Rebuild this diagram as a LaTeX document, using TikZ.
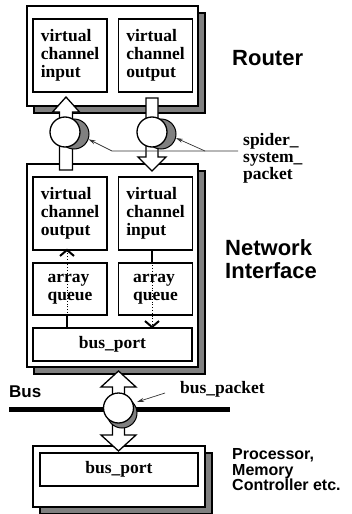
\documentclass[tikz,border=0pt]{standalone}
\usepackage{fontspec}
\setmainfont{Liberation Serif}
\setsansfont{Liberation Sans}
\usetikzlibrary{shadows,arrows.meta,calc}
\definecolor{shadowgray}{gray}{0.5}
\definecolor{ptrgray}{gray}{0.2}

\begin{document}
\begin{tikzpicture}[x=1pt,y=-1pt,
  every node/.style={inner sep=0pt},
  frame/.style={rectangle, draw, line width=1.3pt, fill=white,
    general shadow={shadow xshift=7pt, shadow yshift=-7pt,
      fill=shadowgray, draw=black, line width=1.1pt}},
  unit/.style={rectangle, draw, line width=1.3pt, fill=white, align=left,
    font=\fontsize{17.5}{18}\selectfont\bfseries},
  blockarrow/.style={draw, fill=white, line width=1.3pt, line join=miter},
  pkt/.style={circle, draw, line width=1.3pt, fill=white, minimum size=30pt},
  pktshadow/.style={circle, draw, line width=1pt, fill=shadowgray, minimum size=30pt},
  ptr/.style={draw=ptrgray, line width=0.7pt, -{Stealth[length=7pt,width=4pt]}},
  link/.style={line width=2pt},
  dotlink/.style={line width=0.8pt, dotted,
    -{Straight Barb[length=6pt,width=14pt,line width=2pt]}},
  lblsans/.style={font=\fontsize{22}{23}\selectfont\sffamily\bfseries, align=left},
  lblsmall/.style={font=\fontsize{16}{15.5}\selectfont\sffamily\bfseries, align=left},
  lblserif/.style={font=\fontsize{17.5}{17}\selectfont\bfseries, align=left},
]
\useasboundingbox (0,0) rectangle (352,514);

% Router
\node[frame, minimum width=171pt, minimum height=100pt] (router) at (112.5,56) {};
\node[unit, minimum width=74pt, minimum height=73pt] (rvci) at (70,55.5) {virtual\\channel\\input};
\node[unit, minimum width=74pt, minimum height=73pt] (rvco) at (155.5,55.5) {virtual\\channel\\output};

% Network interface
\node[frame, minimum width=171pt, minimum height=203pt] (ni) at (112.5,265.5) {};
\node[unit, minimum width=74pt, minimum height=73pt] (nvco) at (70,213.5) {virtual\\channel\\output};
\node[unit, minimum width=74pt, minimum height=73pt] (nvci) at (155.5,213.5) {virtual\\channel\\input};
\node[unit, minimum width=74pt, minimum height=52pt] (aql) at (70,289) {array\\queue};
\node[unit, minimum width=74pt, minimum height=52pt] (aqr) at (155.5,289) {array\\queue};
\node[unit, minimum width=159pt, minimum height=33pt, align=center] (bpni) at (112.5,344.5) {bus\_port};

% Links inside the network interface
\draw[link] ([xshift=-3pt]aql.south) -- ([xshift=-3pt]aql.south |- bpni.north);
\draw[dotlink] ([xshift=-3pt]aql.south) -- ([xshift=-3pt,yshift=2pt]aql.south |- nvco.south);
\draw[link] ([xshift=-3.5pt]nvci.south) -- ([xshift=-3.5pt]nvci.south |- aqr.north);
\draw[dotlink] ([xshift=-3.5pt]aqr.north) -- ([xshift=-3.5pt,yshift=-1pt]aqr.north |- bpni.north);

% Transfer arrows between router and network interface
\draw[blockarrow] (59.5,170) -- (59.5,112) -- (52.5,112) -- (66,97) -- (79.5,112)
  -- (72.5,112) -- (72.5,170) -- cycle;
\draw[blockarrow] (146,98) -- (146,157) -- (138,157) -- (152,171) -- (166,157)
  -- (158,157) -- (158,98) -- cycle;

% Spider system packets with their pointer lines
\coordinate (spend) at (238,151);
\coordinate (spjoin) at (205,151);
\coordinate (spbend) at (112,151);
\node[pktshadow] (sl) at (74,134) {};
\node[pktshadow] (sr) at (161,134) {};
\draw[ptr] (spend) -- (spjoin) -- (sr.-15);
\draw[ptr] (spjoin) -- (spbend) -- (sl.-20);
\node[pkt] (cl) at (65,132) {};
\node[pkt] (cr) at (152,132) {};

% Processor / memory controller
\node[frame, minimum width=172pt, minimum height=61pt] (pc) at (119,476.5) {};
\node[unit, minimum width=158pt, minimum height=33pt, align=center] (bppc) at (119,469.5) {bus\_port};

% Bus
\coordinate (busl) at (9,409);
\coordinate (busr) at (230,409);
\draw[line width=5pt] (busl) -- (busr);
\draw[blockarrow] (118.5,371) -- (136,387) -- (124.5,387) -- (124.5,435) -- (136,435)
  -- (118.5,451) -- (101,435) -- (112.5,435) -- (112.5,387) -- (101,387) -- cycle;
\node[pktshadow] (sb) at (122,413) {};
\node[pkt] (cb) at (118.5,408) {};

% Labels
\node[lblsans, anchor=base west] (lrouter) at (232,65) {Router};
\node[lblsans, anchor=north west] (lni) at (225,239) {Network\\Interface};
\node[lblserif, anchor=north west] (lspider) at (243,133) {spider\_\\system\_\\packet};
\node[lblsmall, anchor=north west] (lpc) at (232,448.5) {Processor,\\Memory\\Controller etc.};
\node[font=\fontsize{17}{17}\selectfont\sffamily\bfseries, anchor=base west] (lbus) at (9,397) {Bus};
\node[lblserif, anchor=base west] (lbp) at (180,393) {bus\_packet};
\coordinate (bpfrom) at (165,393);
\coordinate (bptip) at (137,402);
\draw[ptr] (bpfrom) -- (bptip);
\end{tikzpicture}
\end{document}
